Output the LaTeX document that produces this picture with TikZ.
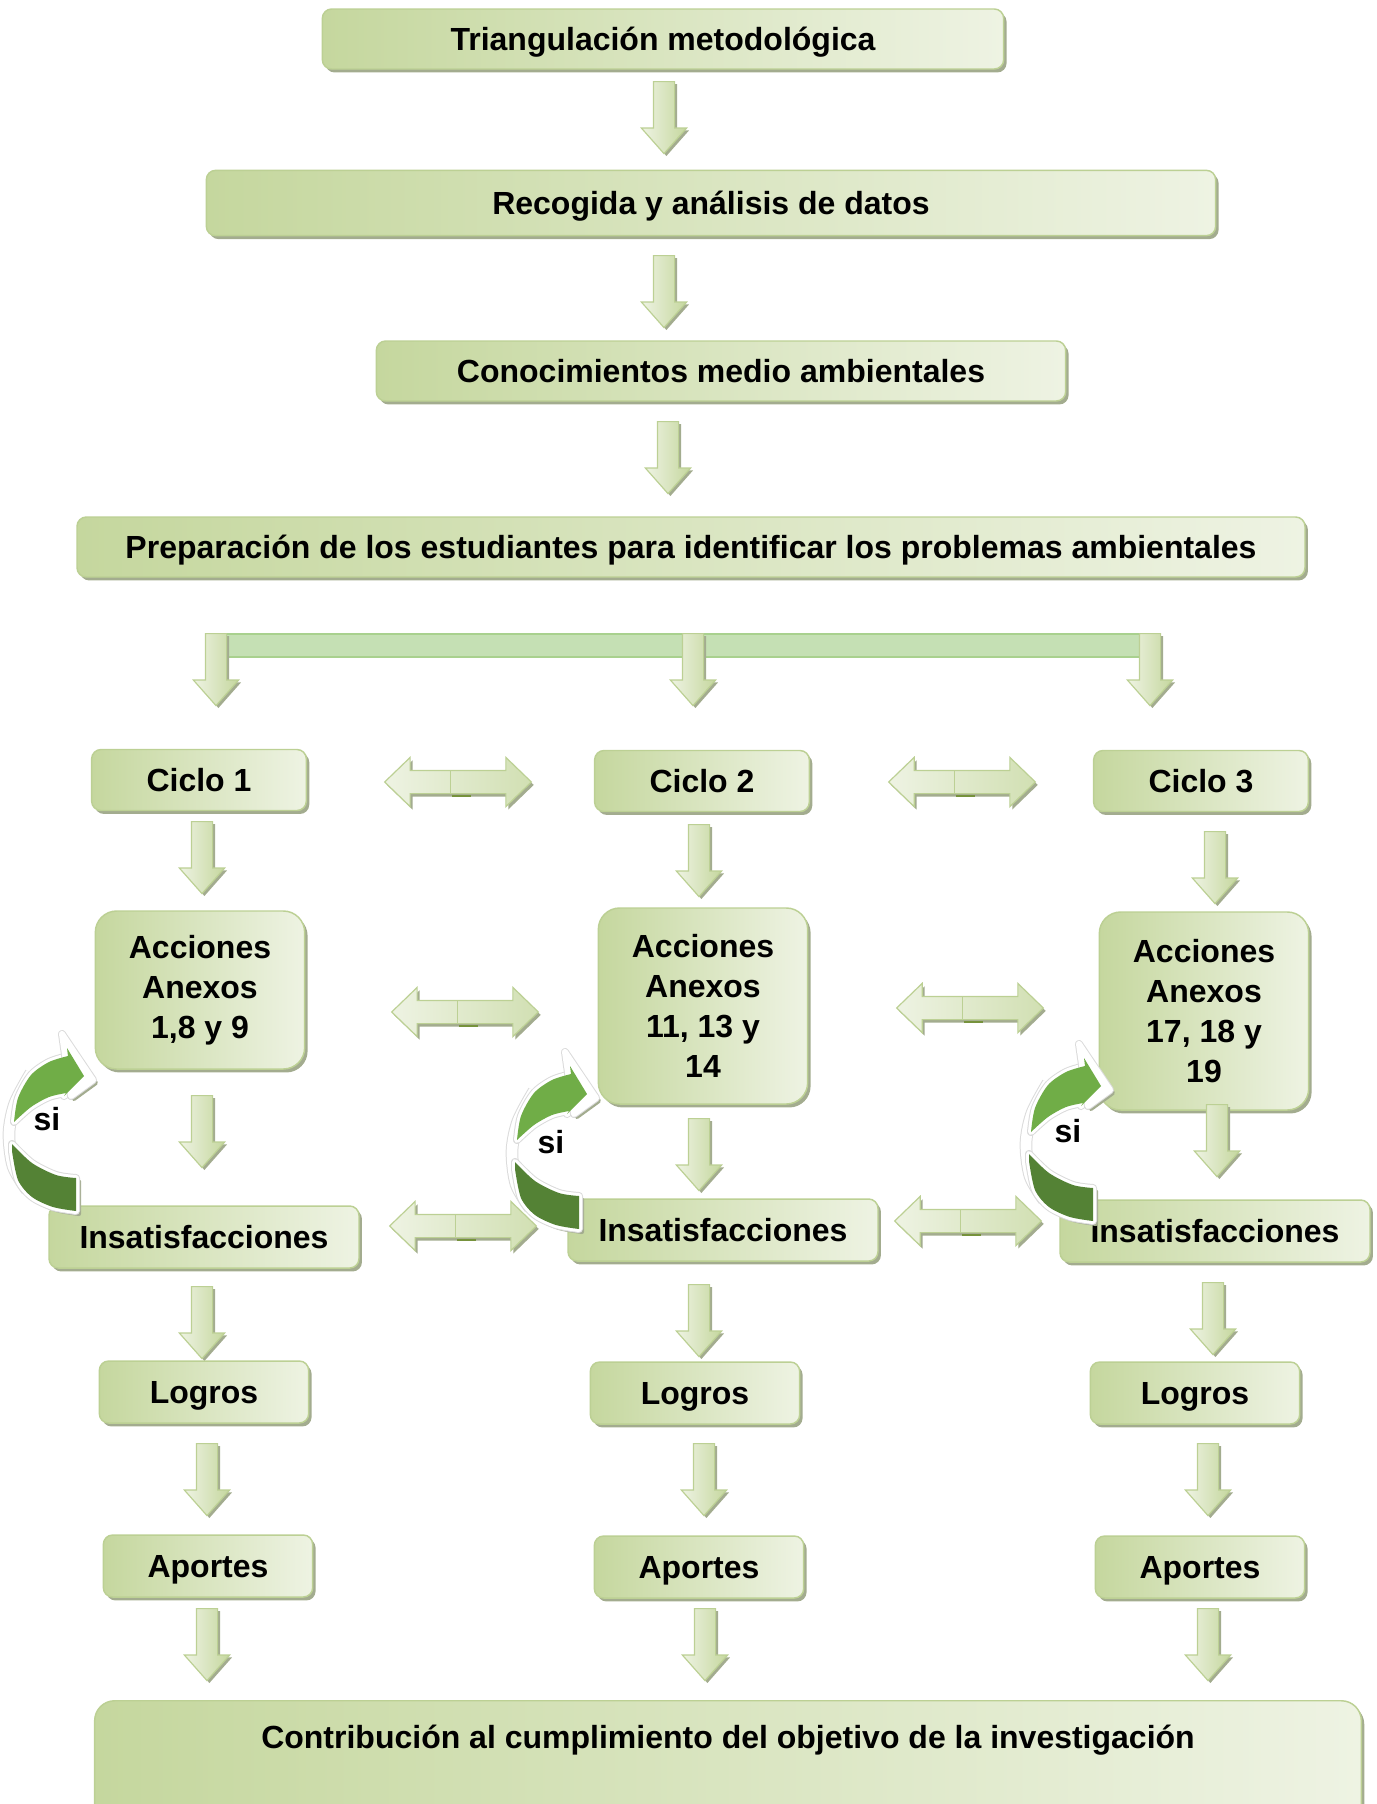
\documentclass[tikz,border=0pt]{standalone}
\usepackage{fontspec}
\setmainfont{Liberation Sans}
\usetikzlibrary{shapes.arrows,shadows,calc}

\definecolor{boxdark}{RGB}{197,215,158}
\definecolor{boxlight}{RGB}{238,243,227}
\definecolor{boxedge}{RGB}{188,208,148}
\definecolor{shadowc}{RGB}{163,172,143}
\definecolor{barfill}{RGB}{197,224,180}
\definecolor{baredge}{RGB}{169,209,142}
\definecolor{loopfront}{RGB}{112,173,71}
\definecolor{loopback}{RGB}{84,130,53}
\definecolor{seam}{RGB}{118,146,60}

\tikzset{every picture/.style={line width=0.75pt}}
\tikzset{
  stage/.style={draw=boxedge, line width=1.1pt, rounded corners=7pt,
    left color=boxdark, right color=boxlight,
    drop shadow={shadow xshift=2.2pt, shadow yshift=-2.6pt, fill=shadowc, opacity=1},
    font=\bfseries\fontsize{24}{30}\selectfont, align=center, inner sep=0pt},
  stagebox/.style={stage, text depth=0pt},
  actionbox/.style={stage, rounded corners=16pt, minimum width=157pt},
  downarrow/.style={single arrow, rotate=-90, anchor=tail, draw=boxedge, line width=0.9pt,
    left color=boxlight, right color=boxdark, inner xsep=0pt, inner ysep=7.5pt,
    minimum height=54pt, minimum width=0pt,
    single arrow head extend=9pt, single arrow tip angle=83,
    drop shadow={shadow xshift=1.8pt, shadow yshift=-1.8pt, fill=shadowc, opacity=1}},
  sidearrow/.style={double arrow, draw=boxedge, line width=0.9pt,
    left color=boxlight, right color=boxdark!70!boxlight, inner xsep=0pt, inner ysep=8.25pt,
    minimum height=110pt, minimum width=0pt,
    double arrow head extend=9.75pt, double arrow tip angle=88,
    drop shadow={shadow xshift=1.8pt, shadow yshift=-2.2pt, fill=shadowc, opacity=1}},
  bar/.style={draw=baredge, fill=barfill, line width=1.1pt},
  loopshade/.style={fill=shadowc, draw=shadowc, line width=3pt, line join=round, shift={(3,3)}},
  loopwhite/.style={fill=white, draw=white, line width=4.5pt, line join=round, preaction={draw=gray!28, line width=6pt, line join=round}},
  looprim/.style={draw=white, line width=8pt, preaction={draw=gray!28, line width=9.5pt}},
  looptxt/.style={font=\bfseries\fontsize{24}{30}\selectfont, inner sep=0pt}
}

\begin{document}
\begin{tikzpicture}[x=0.75pt,y=0.75pt,yscale=-1,xscale=1]
\useasboundingbox (0,0) rectangle (1377,1804);

%Rounded Rect
\node[stagebox, minimum width=511pt, minimum height=45pt] (t1) at (663,39) {Triangulación metodológica};
%Down Arrow
\node[downarrow] (d1) at (664,81) {};
%Rounded Rect
\node[stagebox, minimum width=757pt, minimum height=49pt] (t2) at (711,203) {Recogida y análisis de datos};
%Down Arrow
\node[downarrow] (d2) at (664,255) {};
%Rounded Rect
\node[stagebox, minimum width=517pt, minimum height=45pt] (t3) at (721,371) {Conocimientos medio ambientales};
%Down Arrow
\node[downarrow] (d3) at (668,421) {};
%Rounded Rect
\node[stagebox, minimum width=921pt, minimum height=45pt] (t4) at (691,547) {Preparación de los estudiantes para identificar los problemas ambientales};

%Split bar
\coordinate (barL) at (216,634);
\coordinate (barR) at (1150,657);
\draw[bar] (barL) rectangle (barR);
%Down Arrows from the bar
\node[downarrow] (b1) at (216,633) {};
\node[downarrow] (b2) at (693,633) {};
\node[downarrow] (b3) at (1150,633) {};

%Cycles
\node[stagebox, minimum width=161pt, minimum height=45.75pt] (c1) at (199,780) {Ciclo 1};
\node[stagebox, minimum width=161pt, minimum height=45.75pt] (c2) at (702,781) {Ciclo 2};
\node[stagebox, minimum width=161pt, minimum height=45.75pt] (c3) at (1201,781) {Ciclo 3};

%Down Arrows
\node[downarrow] (ca1) at (202,821) {};
\node[downarrow] (ca2) at (699,824) {};
\node[downarrow] (ca3) at (1215,831) {};

%Actions
\node[actionbox, minimum height=118.5pt] (a1) at (200,990) {Acciones\\Anexos\\1,8 y 9};
\node[actionbox, minimum height=147pt] (a2) at (703,1006) {Acciones\\Anexos\\11, 13 y\\14};
\node[actionbox, minimum height=148.5pt] (a3) at (1204,1011) {Acciones\\Anexos\\17, 18 y\\19};

%Down Arrows
\node[downarrow] (ai1) at (202,1095) {};
\node[downarrow] (ai2) at (699,1118) {};
\node[downarrow] (ai3) at (1217,1104) {};

%Dissatisfactions
\node[stagebox, minimum width=232.5pt, minimum height=46.5pt] (i1) at (204,1237) {Insatisfacciones};
\node[stagebox, minimum width=232.5pt, minimum height=46.5pt] (i2) at (723,1230) {Insatisfacciones};
\node[stagebox, minimum width=232.5pt, minimum height=46.5pt] (i3) at (1215,1231) {Insatisfacciones};

%Down Arrows
\node[downarrow] (il1) at (202,1286) {};
\node[downarrow] (il2) at (699,1284) {};
\node[downarrow] (il3) at (1213,1282) {};

%Achievements
\node[stagebox, minimum width=157pt, minimum height=46.5pt] (l1) at (204,1392) {Logros};
\node[stagebox, minimum width=157pt, minimum height=46.5pt] (l2) at (695,1393) {Logros};
\node[stagebox, minimum width=157pt, minimum height=46.5pt] (l3) at (1195,1393) {Logros};

%Down Arrows
\node[downarrow] (lp1) at (207,1443) {};
\node[downarrow] (lp2) at (704,1443) {};
\node[downarrow] (lp3) at (1208,1443) {};

%Contributions
\node[stagebox, minimum width=157pt, minimum height=46.5pt] (p1) at (208,1566) {Aportes};
\node[stagebox, minimum width=157pt, minimum height=46.5pt] (p2) at (699,1567) {Aportes};
\node[stagebox, minimum width=157pt, minimum height=46.5pt] (p3) at (1200,1567) {Aportes};

%Down Arrows
\node[downarrow] (po1) at (207,1608) {};
\node[downarrow] (po2) at (705,1608) {};
\node[downarrow] (po3) at (1208,1608) {};

%Rounded Rect: bottom
\node[stage, anchor=north, minimum width=950pt, rounded corners=15pt, inner ysep=19pt, text height=17pt, text depth=130pt] (obj) at (728,1700) {Contribución al cumplimiento del objetivo de la investigación};

%Left Right Arrows
\node[sidearrow] (s1) at (458,782) {};
\draw[boxedge] ($(s1.center)+(-8,-11)$) -- ($(s1.center)+(-8,11)$);
\draw[seam, line width=2.2pt] ($(s1.center)+(-6,14)$) -- ($(s1.center)+(13,14)$);
\node[sidearrow] (s2) at (962,782) {};
\draw[boxedge] ($(s2.center)+(-8,-11)$) -- ($(s2.center)+(-8,11)$);
\draw[seam, line width=2.2pt] ($(s2.center)+(-6,14)$) -- ($(s2.center)+(13,14)$);
\node[sidearrow] (s3) at (465,1012) {};
\draw[boxedge] ($(s3.center)+(-8,-11)$) -- ($(s3.center)+(-8,11)$);
\draw[seam, line width=2.2pt] ($(s3.center)+(-6,14)$) -- ($(s3.center)+(13,14)$);
\node[sidearrow] (s4) at (970,1008) {};
\draw[boxedge] ($(s4.center)+(-8,-11)$) -- ($(s4.center)+(-8,11)$);
\draw[seam, line width=2.2pt] ($(s4.center)+(-6,14)$) -- ($(s4.center)+(13,14)$);
\node[sidearrow] (s5) at (463,1226) {};
\draw[boxedge] ($(s5.center)+(-8,-11)$) -- ($(s5.center)+(-8,11)$);
\draw[seam, line width=2.2pt] ($(s5.center)+(-6,14)$) -- ($(s5.center)+(13,14)$);
\node[sidearrow] (s6) at (968,1221) {};
\draw[boxedge] ($(s6.center)+(-8,-11)$) -- ($(s6.center)+(-8,11)$);
\draw[seam, line width=2.2pt] ($(s6.center)+(-6,14)$) -- ($(s6.center)+(13,14)$);

%Curved Arrow 1
\begin{scope}[shift={(91,1078)}]
\filldraw[loopshade] (-29,-44) -- (2,2) -- (-20,18) -- cycle;
\filldraw[loopshade] plot[smooth] coordinates {(-79,66) (-59,85) (-35,97) (-15,100)} -- plot[smooth] coordinates {(-15,133) (-38,129) (-59,119) (-73,102) (-79,73)} -- cycle;
\draw[looprim] plot[smooth] coordinates {(-60,-5) (-76,25) (-82,55) (-78,88) (-64,112)};
\filldraw[loopwhite] plot[smooth] coordinates {(-77,44) (-60,29) (-42,19) (-25,15)} -- (-27,18) -- (-7,-2) -- (-24,-30) -- (-23,-22) -- plot[smooth] coordinates {(-23,-22) (-42,-16) (-60,-3) (-73,20) (-77,44)} -- cycle;
\filldraw[loopwhite] (-29,-44) -- (2,2) -- (-20,18) -- cycle;
\filldraw[loopwhite] plot[smooth] coordinates {(-79,66) (-59,85) (-35,97) (-15,100)} -- plot[smooth] coordinates {(-15,133) (-38,129) (-59,119) (-73,102) (-79,73)} -- cycle;
\fill[loopfront] plot[smooth] coordinates {(-77,44) (-60,29) (-42,19) (-25,15)} -- (-27,18) -- (-7,-2) -- (-24,-30) -- (-23,-22) -- plot[smooth] coordinates {(-23,-22) (-42,-16) (-60,-3) (-73,20) (-77,44)} -- cycle;
\fill[loopback] plot[smooth] coordinates {(-79,66) (-59,85) (-35,97) (-15,100)} -- plot[smooth] coordinates {(-15,133) (-38,129) (-59,119) (-73,102) (-79,73)} -- cycle;
% Text Node
\node[looptxt] (si1) at (-44,41) {si};
\end{scope}

%Curved Arrow 2
\begin{scope}[shift={(594,1096)}]
\filldraw[loopshade] (-29,-44) -- (2,2) -- (-20,18) -- cycle;
\filldraw[loopshade] plot[smooth] coordinates {(-79,66) (-59,85) (-35,97) (-15,100)} -- plot[smooth] coordinates {(-15,133) (-38,129) (-59,119) (-73,102) (-79,73)} -- cycle;
\draw[looprim] plot[smooth] coordinates {(-60,-5) (-76,25) (-82,55) (-78,88) (-64,112)};
\filldraw[loopwhite] plot[smooth] coordinates {(-77,44) (-60,29) (-42,19) (-25,15)} -- (-27,18) -- (-7,-2) -- (-24,-30) -- (-23,-22) -- plot[smooth] coordinates {(-23,-22) (-42,-16) (-60,-3) (-73,20) (-77,44)} -- cycle;
\filldraw[loopwhite] (-29,-44) -- (2,2) -- (-20,18) -- cycle;
\filldraw[loopwhite] plot[smooth] coordinates {(-79,66) (-59,85) (-35,97) (-15,100)} -- plot[smooth] coordinates {(-15,133) (-38,129) (-59,119) (-73,102) (-79,73)} -- cycle;
\fill[loopfront] plot[smooth] coordinates {(-77,44) (-60,29) (-42,19) (-25,15)} -- (-27,18) -- (-7,-2) -- (-24,-30) -- (-23,-22) -- plot[smooth] coordinates {(-23,-22) (-42,-16) (-60,-3) (-73,20) (-77,44)} -- cycle;
\fill[loopback] plot[smooth] coordinates {(-79,66) (-59,85) (-35,97) (-15,100)} -- plot[smooth] coordinates {(-15,133) (-38,129) (-59,119) (-73,102) (-79,73)} -- cycle;
% Text Node
\node[looptxt] (si2) at (-43,46) {si};
\end{scope}

%Curved Arrow 3
\begin{scope}[shift={(1108,1088)}]
\filldraw[loopshade] (-29,-44) -- (2,2) -- (-20,18) -- cycle;
\filldraw[loopshade] plot[smooth] coordinates {(-79,66) (-59,85) (-35,97) (-15,100)} -- plot[smooth] coordinates {(-15,133) (-38,129) (-59,119) (-73,102) (-79,73)} -- cycle;
\draw[looprim] plot[smooth] coordinates {(-60,-5) (-76,25) (-82,55) (-78,88) (-64,112)};
\filldraw[loopwhite] plot[smooth] coordinates {(-77,44) (-60,29) (-42,19) (-25,15)} -- (-27,18) -- (-7,-2) -- (-24,-30) -- (-23,-22) -- plot[smooth] coordinates {(-23,-22) (-42,-16) (-60,-3) (-73,20) (-77,44)} -- cycle;
\filldraw[loopwhite] (-29,-44) -- (2,2) -- (-20,18) -- cycle;
\filldraw[loopwhite] plot[smooth] coordinates {(-79,66) (-59,85) (-35,97) (-15,100)} -- plot[smooth] coordinates {(-15,133) (-38,129) (-59,119) (-73,102) (-79,73)} -- cycle;
\fill[loopfront] plot[smooth] coordinates {(-77,44) (-60,29) (-42,19) (-25,15)} -- (-27,18) -- (-7,-2) -- (-24,-30) -- (-23,-22) -- plot[smooth] coordinates {(-23,-22) (-42,-16) (-60,-3) (-73,20) (-77,44)} -- cycle;
\fill[loopback] plot[smooth] coordinates {(-79,66) (-59,85) (-35,97) (-15,100)} -- plot[smooth] coordinates {(-15,133) (-38,129) (-59,119) (-73,102) (-79,73)} -- cycle;
% Text Node
\node[looptxt] (si3) at (-40,43) {si};
\end{scope}

\end{tikzpicture}
\end{document}
